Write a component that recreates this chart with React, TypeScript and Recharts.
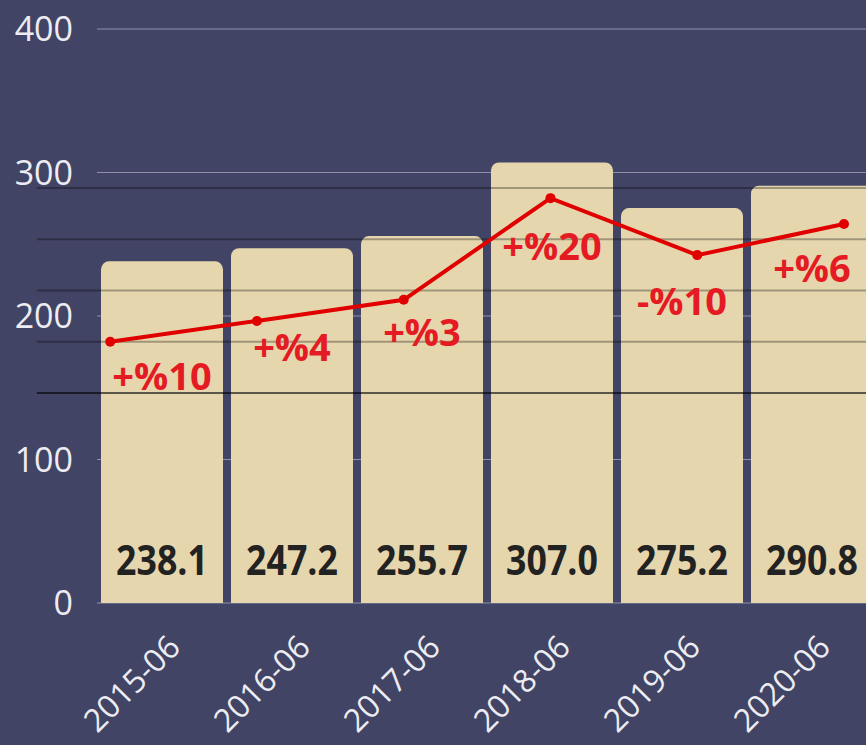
import {
  Bar,
  CartesianGrid,
  ComposedChart,
  LabelList,
  Line,
  ReferenceLine,
  XAxis,
  YAxis,
} from 'recharts';

// periods on the x axis
const categories = ['2015-06', '2016-06', '2017-06', '2018-06', '2019-06', '2020-06'];
// bar heights (left axis)
const barValues = [238.1, 247.2, 255.7, 307.0, 275.2, 290.8];
// red line, read against the hidden right axis
const lineValues = [234.9, 245.1, 255.4, 305.0, 277.2, 292.4];
// yearly change texts
const growthLabels = ['+%10', '+%4', '+%3', '+%20', '-%10', '+%6'];
// left axis ticks
const leftTicks = [0, 100, 200, 300, 400];
// guide lines on the right axis
const lineGuides = [210, 235, 260, 285, 310];

// per label nudges below the line point (styling only)
const GROWTH_DY = [34, 26, 33, 48, 46, 44];

const BG = '#414464';
const BAR = '#e6d6ae';
const RED = '#e00000';
const LABEL_RED = '#e41b23';
const TICK = '#ececf2';
const FONT = '"Open Sans", "DejaVu Sans", sans-serif';

interface Row {
  cat: string;
  idx: number;
  bar: number;
  line: number;
  growth: string;
}

const rows: Row[] = categories.map((cat, i) => ({
  cat,
  idx: i,
  bar: barValues[i],
  line: lineValues[i],
  growth: growthLabels[i],
}));

function XTick(props: any) {
  const { x, y, payload } = props;
  const ax = x + 4;
  return (
    <text
      x={ax}
      y={y}
      dy="0.71em"
      transform={`rotate(-45 ${ax} ${y})`}
      textAnchor="end"
      fill={TICK}
      fontSize={32}
      fontFamily={FONT}
    >
      {payload.value}
    </text>
  );
}

// condensed bold look: Open Sans Bold squeezed horizontally
function BarValueLabel(props: any) {
  const { x, y, width, height, value } = props;
  const cx = x + width / 2;
  const cy = y + height - 43;
  return (
    <text
      transform={`translate(${cx} ${cy}) scale(0.85 1)`}
      x={0}
      y={0}
      dy="0.36em"
      textAnchor="middle"
      fill="#222222"
      fontSize={42}
      fontWeight={700}
      fontFamily={FONT}
    >
      {Number(value).toFixed(1)}
    </text>
  );
}

function GrowthLabel(props: any) {
  const { x, y, index } = props;
  return (
    <text
      x={x}
      y={y + (GROWTH_DY[index] ?? 40)}
      dy="0.36em"
      textAnchor="middle"
      fill={LABEL_RED}
      fontSize={38}
      fontWeight={700}
      fontFamily={FONT}
    >
      {growthLabels[index]}
    </text>
  );
}

export default function App() {
  return (
    <div
      style={{
        position: 'absolute',
        left: 0,
        top: 0,
        width: 866,
        height: 745,
        overflow: 'hidden',
        background: BG,
      }}
    >
      <ComposedChart
        width={877}
        height={745}
        data={rows}
        margin={{ top: 29, right: 0, left: 0, bottom: 0 }}
        barCategoryGap={4}
      >
        <CartesianGrid vertical={false} stroke="#8e90a8" strokeWidth={1} />
        <XAxis
          dataKey="cat"
          axisLine={false}
          tickLine={false}
          tickSize={0}
          tickMargin={30}
          height={142}
          interval={0}
          tick={<XTick />}
        />
        <XAxis
          xAxisId="lineX"
          dataKey="idx"
          type="number"
          domain={[-0.09, 5.225]}
          allowDataOverflow
          hide
        />
        <YAxis
          domain={[0, 400]}
          ticks={leftTicks}
          width={97}
          axisLine={false}
          tickLine={false}
          tickSize={0}
          tickMargin={24}
          tick={{ fill: TICK, fontSize: 34, fontFamily: FONT }}
        />
        <YAxis
          yAxisId="line"
          orientation="right"
          type="number"
          domain={[107.5, 387.5]}
          allowDataOverflow
          hide
        />
        <Bar dataKey="bar" fill={BAR} radius={[8, 8, 0, 0]} isAnimationActive={false}>
          <LabelList dataKey="bar" content={<BarValueLabel />} />
        </Bar>
        {lineGuides.map((g, i) => (
          <ReferenceLine
            key={g}
            xAxisId="lineX"
            yAxisId="line"
            segment={[
              { x: -0.5, y: g },
              { x: 5.5, y: g },
            ]}
            ifOverflow="visible"
            stroke={i === 0 ? 'rgba(0,0,0,0.6)' : 'rgba(0,0,0,0.3)'}
            strokeWidth={2}
          />
        ))}
        <Line
          yAxisId="line"
          dataKey="line"
          stroke="none"
          dot={false}
          activeDot={false}
          legendType="none"
          isAnimationActive={false}
        >
          <LabelList dataKey="growth" content={<GrowthLabel />} />
        </Line>
        <Line
          xAxisId="lineX"
          yAxisId="line"
          dataKey="line"
          stroke={RED}
          strokeWidth={4}
          dot={{ r: 5, fill: RED, stroke: 'none' }}
          activeDot={false}
          isAnimationActive={false}
        />
      </ComposedChart>
    </div>
  );
}
